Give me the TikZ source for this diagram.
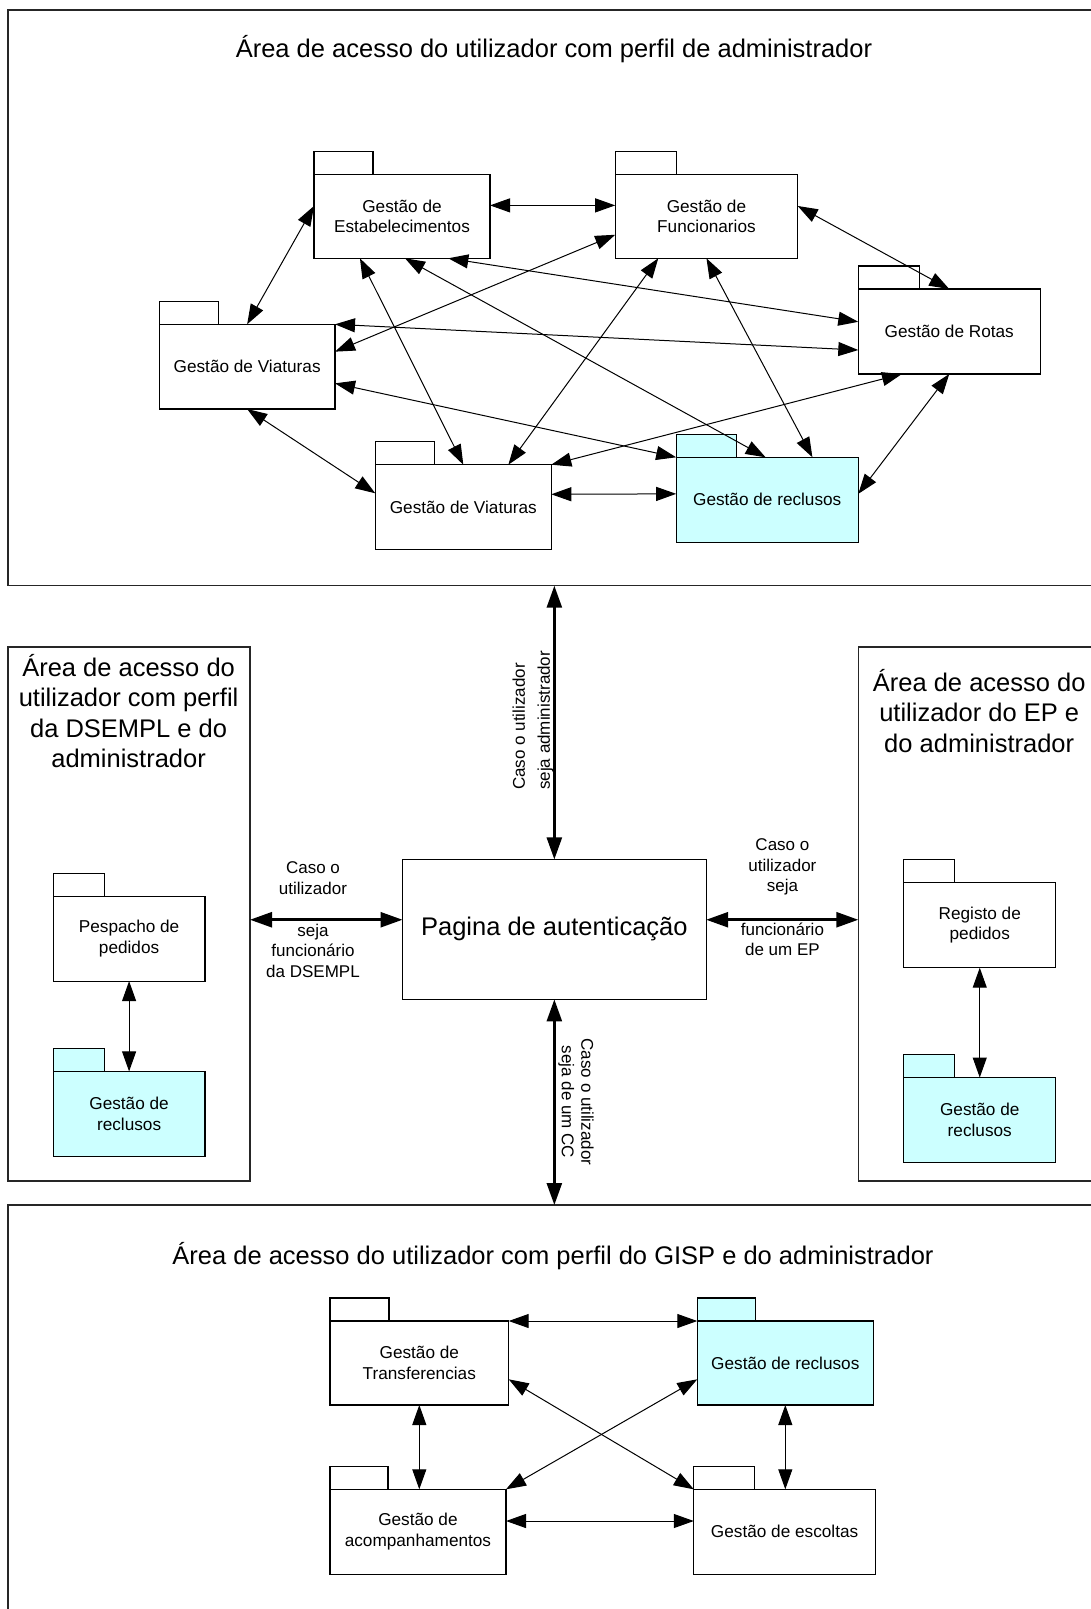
\documentclass[tikz,border=0pt]{standalone}
\usepackage{fontspec}
\setmainfont{Liberation Sans}
\usetikzlibrary{arrows.meta,calc}
\definecolor{pkgcyan}{RGB}{204,255,255}

\newcommand\titlefont{\fontsize{25.5}{30.3}\selectfont}
\newcommand\pkgfont{\fontsize{17.2}{20.7}\selectfont}
\newcommand\lblfont{\fontsize{17}{20.4}\selectfont}

\tikzset{
  area/.style={draw=black!85, line width=1.5pt, inner sep=0pt, outer sep=0pt},
  pkgbody/.style={draw=black, line width=1.2pt, inner sep=0pt, outer sep=0pt, font=\pkgfont, align=center},
  pkgtab/.style={draw=black, line width=1.2pt},
  authbox/.style={draw=black, line width=1.2pt, inner sep=0pt, outer sep=0pt, font=\titlefont},
  link/.style={line width=1pt, {Triangle[length=20pt,width=14pt]}-{Triangle[length=20pt,width=14pt]}},
  mainlink/.style={line width=2.6pt, {Triangle[length=22pt,width=15pt]}-{Triangle[length=22pt,width=15pt]}},
  areatitle/.style={font=\titlefont, align=center, inner sep=0pt},
  lbl/.style={font=\lblfont, align=center, inner sep=0pt},
}

% rectangular area: name, left, top, right, bottom
\newcommand\areabox[5]{%
  \node[area, minimum width={(#4-#2)*1pt}, minimum height={(#5-#3)*1pt}]
    (#1) at ({(#2+#4)/2},{(#3+#5)/2}) {};}

% UML package: name, left, top, right, bottom, tab width, fill, text
\newcommand\pkgbox[8]{%
  \draw[pkgtab, fill=#7] (#2,#3-23) rectangle (#2+#6,#3);
  \node[pkgbody, fill=#7, minimum width={(#4-#2)*1pt}, minimum height={(#5-#3)*1pt}]
    (#1) at ({(#2+#4)/2},{(#3+#5)/2}) {#8};}

\begin{document}
\begin{tikzpicture}[x=1pt, y=-1pt]
\useasboundingbox (0,0) rectangle (1091,1609);
\clip (0,0) rectangle (1091,1609);

% ---------- access areas ----------
\areabox{topA}{8}{10}{1100}{585.7}
\areabox{leftA}{8}{647}{250}{1181}
\areabox{rightA}{858.3}{647}{1100}{1181}
\areabox{botA}{8}{1205}{1100}{1625}

\node[areatitle, anchor=base] (tTop) at (554,57) {Área de acesso do utilizador com perfil de administrador};
\node[areatitle] (tLeft) at (128.6,711) {Área de acesso do\\utilizador com perfil\\da DSEMPL e do\\administrador};
\node[areatitle] (tRight) at (979.2,711) {Área de acesso do\\utilizador do EP e\\do administrador};
\node[areatitle, anchor=base] (tBot) at (553,1264) {Área de acesso do utilizador com perfil do GISP e do administrador};

% ---------- administrator area ----------
\pkgbox{E}{314}{174.3}{490}{258.3}{59}{white}{Gestão de\\Estabelecimentos}
\pkgbox{F}{615.2}{174.3}{797.7}{258.3}{61}{white}{Gestão de\\Funcionarios}
\pkgbox{R}{858.3}{289}{1040.2}{374}{61}{white}{Gestão de Rotas}
\pkgbox{V1}{159.3}{324.3}{335}{409}{59}{white}{Gestão de Viaturas}
\pkgbox{V2}{375.3}{464.7}{551.3}{549.3}{59}{white}{Gestão de Viaturas}
\pkgbox{C}{676.2}{457.3}{858.3}{542.3}{60}{pkgcyan}{Gestão de reclusos}

\draw[link] ($(E.north east)!0.37!(E.south east)$) -- ($(F.north west)!0.37!(F.south west)$);
\draw[link] ($(E.north west)!0.377!(E.south west)$) -- (V1.north);
\draw[link] ($(F.north east)!0.377!(F.south east)$) -- (R.north);
\draw[link] ($(E.south west)!0.763!(E.south east)$) -- ($(R.north west)!0.386!(R.south west)$);
\draw[link] (V1.north east) -- ($(R.north west)!0.718!(R.south west)$);
\draw[link] ($(F.north west)!0.72!(F.south west)$) -- ($(V1.north east)!0.323!(V1.south east)$);
\draw[link] ($(V1.north east)!0.697!(V1.south east)$) -- (C.north west);
\draw[link] ($(E.south west)!0.261!(E.south east)$) -- (V2.north);
\draw[link] ($(E.south west)!0.517!(E.south east)$) -- ($(C.north west)!0.491!(C.north east)$);
\draw[link] ($(F.south west)!0.236!(F.south east)$) -- ($(V2.north west)!0.756!(V2.north east)$);
\draw[link] (F.south) -- ($(C.north west)!0.748!(C.north east)$);
\draw[link] ($(R.south west)!0.24!(R.south east)$) -- (V2.north east);
\draw[link] (R.south) -- ($(C.north east)!0.43!(C.south east)$);
\draw[link] ($(V2.north east)!0.35!(V2.south east)$) -- ($(C.north west)!0.43!(C.south west)$);
\draw[link] (V1.south) -- ($(V2.north west)!0.338!(V2.south west)$);

% ---------- DSEMPL area ----------
\pkgbox{Pd}{53.2}{896.1}{205}{981.1}{51}{white}{Pespacho de\\pedidos}
\pkgbox{RL}{53.2}{1071.4}{205}{1156.3}{51}{pkgcyan}{Gestão de\\reclusos}
\draw[link] (Pd.south) -- (RL.north);

% ---------- EP area ----------
\pkgbox{Rg}{903.7}{882.3}{1055.8}{967.7}{51}{white}{Registo de\\pedidos}
\pkgbox{RR}{903.7}{1077.5}{1055.8}{1162.5}{51}{pkgcyan}{Gestão de\\reclusos}
\draw[link] (Rg.south) -- (RR.north);

% ---------- GISP area ----------
\pkgbox{T}{329.9}{1321}{508.7}{1405}{59}{white}{Gestão de\\Transferencias}
\pkgbox{CB}{697.3}{1321}{873.3}{1405}{58}{pkgcyan}{Gestão de reclusos}
\pkgbox{A}{329.9}{1489.3}{506}{1574.3}{58}{white}{Gestão de\\acompanhamentos}
\pkgbox{S}{693.8}{1489.3}{875.4}{1574.3}{61}{white}{Gestão de escoltas}

\draw[link] (T.north east) -- (CB.north west);
\draw[link] (T.south) -- (T.south |- A.north);
\draw[link] (CB.south) -- (CB.south |- S.north);
\draw[link] ($(A.north east)!0.373!(A.south east)$) -- ($(S.north west)!0.373!(S.south west)$);
\draw[link] ($(T.north east)!0.694!(T.south east)$) -- (S.north west);
\draw[link] ($(CB.north west)!0.694!(CB.south west)$) -- (A.north east);

% ---------- authentication page ----------
\node[authbox, minimum width=303.7pt, minimum height=140pt] (P) at (554.35,929.4) {Pagina de autenticação};
\coordinate (Pw) at ($(P.north west)!0.431!(P.south west)$);
\coordinate (Pe) at ($(P.north east)!0.431!(P.south east)$);

\draw[mainlink] (P.north |- topA.south) -- (P.north);
\draw[mainlink] (P.south) -- (P.south |- botA.north);
\draw[mainlink] (Pw -| leftA.east) -- (Pw);
\draw[mainlink] (Pe) -- (Pe -| rightA.west);

\node[lbl] (lA) at (313,878) {Caso o\\utilizador};
\node[lbl] (lB) at (313,950.6) {seja\\funcionário\\da DSEMPL};
\node[lbl] (rA) at (782.4,867) {Caso o\\utilizador\\seja};
\node[lbl] (rB) at (782.4,939.4) {funcionário\\de um EP};
\node[lbl, align=left, rotate=90, anchor=west, font=\fontsize{17}{25}\selectfont] (vTop) at (533,790) {Caso o utilizador\\seja administrador};
\node[lbl, rotate=-90, font=\fontsize{17}{19.5}\selectfont] (vBot) at (576,1102) {Caso o utilizador\\seja de um CC};

\end{tikzpicture}
\end{document}
